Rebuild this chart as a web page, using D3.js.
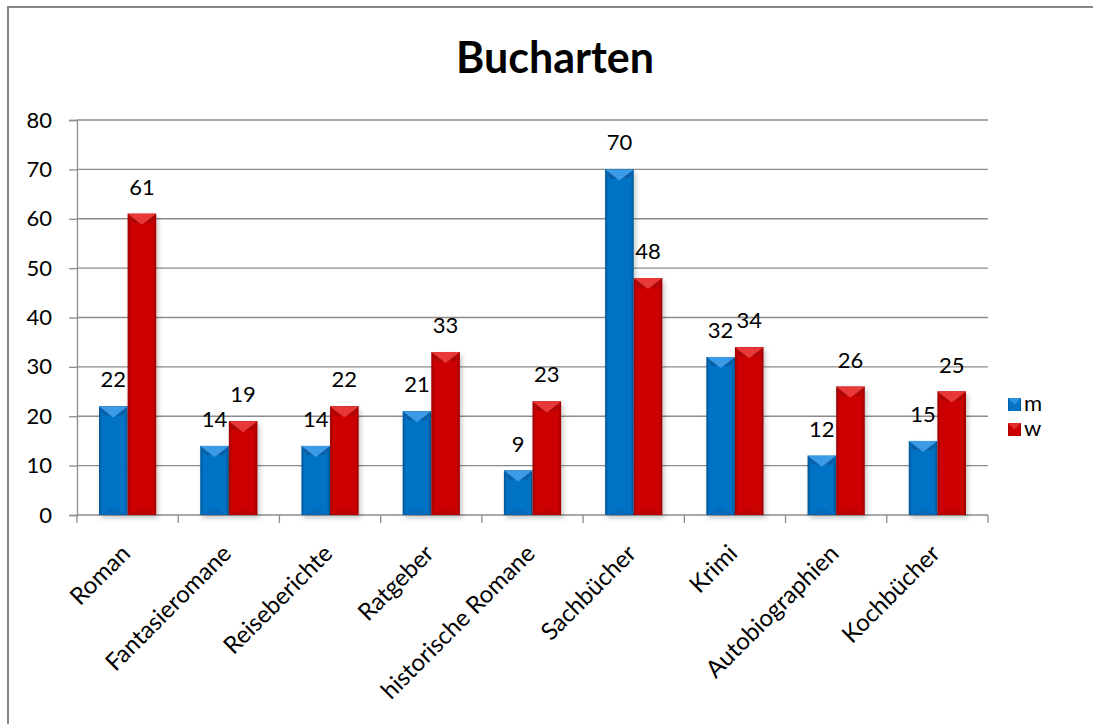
<!DOCTYPE html>
<html>
<head>
<meta charset="utf-8">
<script src="https://cdn.jsdelivr.net/npm/d3@7"></script>
<style>
  body { margin: 0; background: #fff; overflow: hidden; }
  svg { display: block; font-family: Lato, "Open Sans", sans-serif; }
</style>
</head>
<body>
<svg id="chart" width="1093" height="724"></svg>
<script>
// data
const categories = ["Roman", "Fantasieromane", "Reiseberichte", "Ratgeber", "historische Romane",
    "Sachbücher", "Krimi", "Autobiographien", "Kochbücher"];
const seriesNames = ["m", "w"];
const valuesM = [22, 14, 14, 21, 9, 70, 32, 12, 15];
const valuesW = [61, 19, 22, 33, 23, 48, 34, 26, 25];
const yTicks = [0, 10, 20, 30, 40, 50, 60, 70, 80];

const PLOT_LEFT = 77;
const PLOT_RIGHT = 988;
const PLOT_TOP = 120;
const PLOT_BOTTOM = 515;
const GRID = "#8c8c8c";
const FONT = 22;

const svg = d3.select("#chart");

// outer chart border, only top and left are inside the picture
svg.append("line")
    .attr("x1", 8).attr("x2", 1093).attr("y1", 7).attr("y2", 7)
    .attr("stroke", "#868686").attr("stroke-width", 2);
svg.append("line")
    .attr("x1", 8).attr("x2", 8).attr("y1", 6).attr("y2", 724)
    .attr("stroke", "#868686").attr("stroke-width", 2);

const defs = svg.append("defs");

// soft drop shadow under the bars
const shadow = defs.append("filter").attr("id", "shadow")
    .attr("x", "-30%").attr("y", "-10%").attr("width", "160%").attr("height", "130%");
shadow.append("feDropShadow")
    .attr("dx", 2).attr("dy", 3).attr("stdDeviation", 2.5)
    .attr("flood-color", "#000").attr("flood-opacity", 0.22);

// horizontal gradient: darker edges, bright middle
function barGradient(id, edge, mid) {
    const g = defs.append("linearGradient").attr("id", id)
        .attr("x1", "0%").attr("x2", "100%").attr("y1", "0%").attr("y2", "0%");
    g.append("stop").attr("offset", "0%").attr("stop-color", edge);
    g.append("stop").attr("offset", "12%").attr("stop-color", mid);
    g.append("stop").attr("offset", "88%").attr("stop-color", mid);
    g.append("stop").attr("offset", "100%").attr("stop-color", edge);
}
barGradient("gradM", "#005596", "#0673c6");
barGradient("gradW", "#9a0000", "#cc0000");

const colours = {
    m: { fill: "url(#gradM)", bevel: "#3b9be6", side: "#0a5fa4", base: "#0567b4" },
    w: { fill: "url(#gradW)", bevel: "#e83838", side: "#a80808", base: "#b80000" }
};

// scales
const x = d3.scaleBand().domain(categories).range([PLOT_LEFT, PLOT_RIGHT]).padding(0);
const xSub = d3.scaleBand().domain(seriesNames).range([22, x.bandwidth() - 22]).padding(0);
const y = d3.scaleLinear().domain([0, 80]).range([PLOT_BOTTOM, PLOT_TOP]);

// gridlines
svg.append("g")
    .selectAll("line")
    .data(yTicks.filter(d => d > 0))
    .join("line")
    .attr("x1", PLOT_LEFT).attr("x2", PLOT_RIGHT)
    .attr("y1", d => y(d)).attr("y2", d => y(d))
    .attr("stroke", GRID).attr("stroke-width", 1.3);

// y axis
const yAxis = svg.append("g")
    .attr("transform", "translate(" + PLOT_LEFT + ",0)")
    .call(d3.axisLeft(y).tickValues(yTicks).tickSize(8).tickPadding(17));
yAxis.select(".domain").attr("stroke", GRID).attr("stroke-width", 1.3);
yAxis.selectAll(".tick line").attr("stroke", GRID).attr("stroke-width", 1.3);
yAxis.selectAll(".tick text")
    .attr("font-size", FONT).attr("fill", "#000")
    .attr("font-family", "Lato, sans-serif");

// x axis line with ticks at category boundaries
svg.append("line")
    .attr("x1", PLOT_LEFT).attr("x2", PLOT_RIGHT)
    .attr("y1", PLOT_BOTTOM).attr("y2", PLOT_BOTTOM)
    .attr("stroke", GRID).attr("stroke-width", 1.3);
const bounds = categories.map(c => x(c)).concat([PLOT_RIGHT]);
svg.append("g")
    .selectAll("line")
    .data(bounds)
    .join("line")
    .attr("x1", d => d).attr("x2", d => d)
    .attr("y1", PLOT_BOTTOM).attr("y2", PLOT_BOTTOM + 8)
    .attr("stroke", GRID).attr("stroke-width", 1.3);

// bars
const rows = [];
categories.forEach((c, i) => {
    rows.push({ cat: c, s: "m", v: valuesM[i] });
    rows.push({ cat: c, s: "w", v: valuesW[i] });
});

const bars = svg.append("g").selectAll("g")
    .data(rows)
    .join("g")
    .attr("transform", d => "translate(" + (x(d.cat) + xSub(d.s)) + ",0)");

const bw = xSub.bandwidth();
const BEVEL = 9;

bars.append("rect")
    .attr("x", 0).attr("width", bw)
    .attr("y", d => y(d.v)).attr("height", d => PLOT_BOTTOM - y(d.v))
    .attr("fill", d => colours[d.s].fill)
    .attr("filter", "url(#shadow)");

// top bevel: lighter V, darker side corners
bars.append("path")
    .attr("d", d => {
        const t = y(d.v);
        return "M0," + t + "L" + bw + "," + t + "L" + (bw - 5) + "," + (t + BEVEL) +
            "L5," + (t + BEVEL) + "Z";
    })
    .attr("fill", d => colours[d.s].side);
bars.append("path")
    .attr("d", d => {
        const t = y(d.v);
        return "M0," + t + "L" + bw + "," + t + "L" + (bw / 2) + "," + (t + BEVEL + 2) + "Z";
    })
    .attr("fill", d => colours[d.s].bevel);

// bottom bevel, faint
bars.append("path")
    .attr("d", d => "M0," + PLOT_BOTTOM + "L" + bw + "," + PLOT_BOTTOM + "L" + (bw / 2) + "," +
        (PLOT_BOTTOM - 7) + "Z")
    .attr("fill", d => colours[d.s].base)
    .attr("opacity", d => PLOT_BOTTOM - y(d.v) > 14 ? 0.8 : 0);

// data labels
bars.append("text")
    .attr("x", bw / 2)
    .attr("y", d => y(d.v) - 19)
    .attr("text-anchor", "middle")
    .attr("font-size", FONT)
    .attr("fill", "#000")
    .text(d => d.v);

// category labels, rotated
svg.append("g").selectAll("text")
    .data(categories)
    .join("text")
    .attr("transform", d => "translate(" + (x(d) + x.bandwidth() / 2 + 4) + "," + (PLOT_BOTTOM + 40) + ") rotate(-45)")
    .attr("text-anchor", "end")
    .attr("font-size", 24)
    .attr("fill", "#000")
    .text(d => d);

// title
svg.append("text")
    .attr("x", 555).attr("y", 73)
    .attr("text-anchor", "middle")
    .attr("font-size", 43).attr("font-weight", "bold")
    .attr("fill", "#000")
    .text("Bucharten");

// legend
const legend = svg.append("g").attr("transform", "translate(1008,398)");
const legendItems = legend.selectAll("g")
    .data(seriesNames)
    .join("g")
    .attr("transform", (d, i) => "translate(0," + (i * 25) + ")");
legendItems.append("rect")
    .attr("width", 13).attr("height", 13)
    .attr("fill", d => colours[d].fill);
legendItems.append("path")
    .attr("d", "M0,0L13,0L6.5,6.5Z")
    .attr("fill", d => colours[d].bevel)
    .attr("opacity", 0.8);
legendItems.append("text")
    .attr("x", 16).attr("y", 13)
    .attr("font-size", FONT)
    .attr("fill", "#000")
    .text(d => d);
</script>
</body>
</html>
